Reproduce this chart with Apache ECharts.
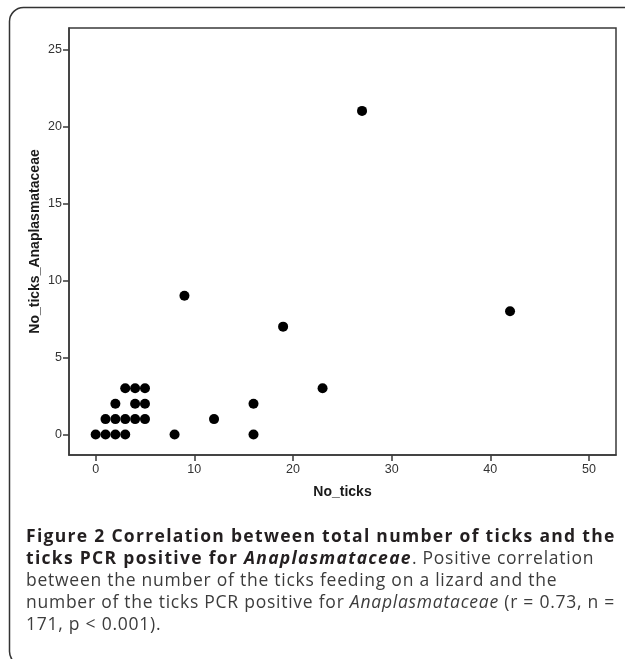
<!DOCTYPE html>
<html>
<head>
<meta charset="utf-8">
<script src="https://cdn.jsdelivr.net/npm/echarts@6/dist/echarts.min.js"></script>
<style>
html,body{margin:0;padding:0;background:#fff;}
#wrap{position:relative;width:625px;height:659px;overflow:hidden;}
#chart{position:absolute;left:0;top:0;width:625px;height:659px;}
#caption{position:absolute;left:26px;top:524px;width:640px;font-family:"Open Sans","Noto Sans",sans-serif;font-size:17.5px;line-height:22px;color:#3c3c3c;white-space:nowrap;}
#caption .ln{display:block;height:22px;}
#caption .b{font-weight:bold;color:#231f20;letter-spacing:1.3px;}
#caption .r{letter-spacing:0.75px;}
#caption i{font-style:italic;}
</style>
</head>
<body>
<div id="wrap">
<div id="chart"></div>
<div id="caption"></div>
</div>
<script>
// Data: No_ticks (x) vs No_ticks_Anaplasmataceae (y)
var noTicks =        [0, 1, 2, 3, 8, 16, 1, 2, 3, 4, 5, 12, 2, 4, 5, 16, 3, 4, 5, 23, 9, 19, 27, 42];
var noTicksAnapl =   [0, 0, 0, 0, 0, 0,  1, 1, 1, 1, 1, 1,  2, 2, 2, 2,  3, 3, 3, 3,  9, 7,  21, 8];
var xTickValues = [0, 10, 20, 30, 40, 50];
var yTickValues = [0, 5, 10, 15, 20, 25];
var xTitle = 'No_ticks';
var yTitle = 'No_ticks_Anaplasmataceae';
var captionLines = [
  '<span class="b">Figure 2 Correlation between total number of ticks and the</span>',
  '<span class="b">ticks PCR positive for <i>Anaplasmataceae</i></span><span class="r">. Positive correlation</span>',
  '<span class="r">between the number of the ticks feeding on a lizard and the</span>',
  '<span class="r">number of the ticks PCR positive for <i>Anaplasmataceae</i> (r = 0.73, n =</span>',
  '<span class="r">171, p &lt; 0.001).</span>'
];

document.getElementById('caption').innerHTML = captionLines.map(function (l) {
  return '<span class="ln">' + l + '</span>';
}).join('');

var points = noTicks.map(function (x, i) { return [x, noTicksAnapl[i]]; });

var chart = echarts.init(document.getElementById('chart'), null, {renderer: 'canvas'});

var tickFont = '"Liberation Sans", Arial, sans-serif';
var axisLineStyle = {color: '#3a3a3a', width: 1.5};

chart.setOption({
  animation: false,
  backgroundColor: 'transparent',
  grid: {left: 69, top: 28, width: 547, height: 427, show: true, borderColor: '#3a3a3a', borderWidth: 1.5, containLabel: false},
  xAxis: {
    type: 'value',
    min: -2.7,
    max: 52.74,
    name: xTitle,
    nameLocation: 'middle',
    nameGap: 30,
    nameMoveOverlap: false,
    nameTextStyle: {fontFamily: 'Liberation Sans, Arial, sans-serif', fontWeight: 'bold', fontSize: 14, color: '#1a1a1a'},
    splitLine: {show: false},
    axisLine: {show: true, onZero: false, lineStyle: axisLineStyle},
    axisTick: {show: true, length: 6, inside: false, customValues: xTickValues, lineStyle: axisLineStyle},
    axisLabel: {customValues: xTickValues, margin: 8, fontFamily: tickFont, fontSize: 12.5, color: '#333'}
  },
  yAxis: {
    type: 'value',
    min: -1.33,
    max: 26.38,
    name: yTitle,
    nameLocation: 'middle',
    nameGap: 27,
    nameMoveOverlap: false,
    nameTextStyle: {fontFamily: 'Liberation Sans, Arial, sans-serif', fontWeight: 'bold', fontSize: 14, color: '#1a1a1a'},
    splitLine: {show: false},
    axisLine: {show: true, onZero: false, lineStyle: axisLineStyle},
    axisTick: {show: true, length: 6, inside: false, customValues: yTickValues, lineStyle: axisLineStyle},
    axisLabel: {customValues: yTickValues, margin: 7, fontFamily: tickFont, fontSize: 12.5, color: '#333'}
  },
  series: [{
    type: 'scatter',
    data: points,
    symbol: 'circle',
    symbolSize: 10,
    itemStyle: {color: '#000', opacity: 1},
    z: 3
  }],
  graphic: [{
    type: 'rect',
    silent: true,
    shape: {x: 9.5, y: 7.5, width: 700, height: 658, r: 14},
    style: {fill: 'none', stroke: '#333', lineWidth: 1.5},
    z: 0
  }]
});
</script>
</body>
</html>
